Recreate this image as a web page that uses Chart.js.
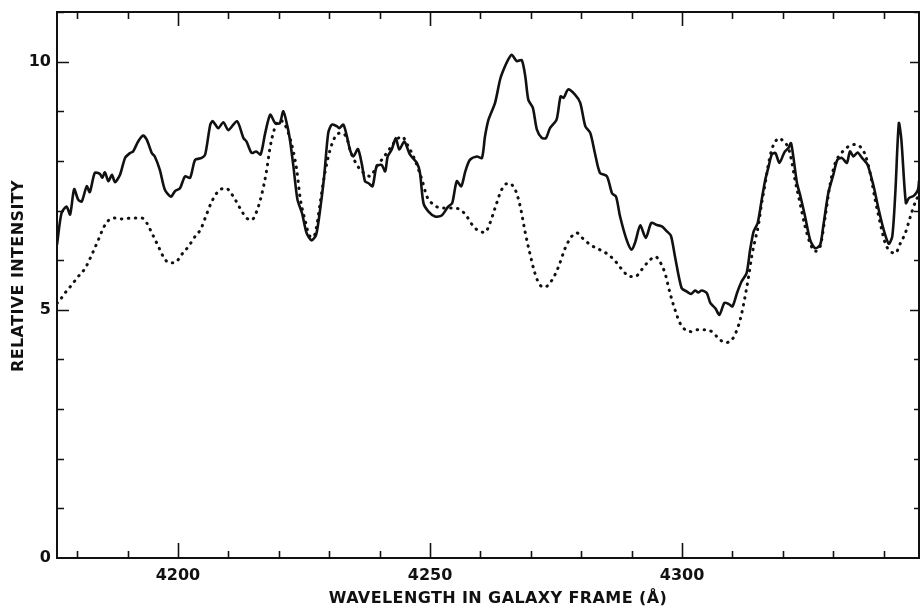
<!DOCTYPE html>
<html>
<head>
<meta charset="utf-8">
<script src="https://cdn.jsdelivr.net/npm/chart.js@4.4.1/dist/chart.umd.min.js"></script>
<style>
  html, body { margin: 0; padding: 0; background: #ffffff; }
  #wrap { width: 920px; height: 610px; position: relative; }
</style>
</head>
<body>
<div id="wrap"><canvas id="c" width="920" height="610"></canvas></div>
<script>
// ---- data ----
const galaxyWavelength = [
  4176.0,4176.9,4177.9,4178.6,4179.4,4180.2,4180.9,4181.9,4182.5,4183.5,4184.5,4185.0,4185.5,4186.2,4186.9,4187.5,
  4188.5,4189.5,4190.5,4191.1,4192.1,4193.1,4193.8,4194.8,4195.4,4196.4,4197.4,4198.6,4199.4,4200.4,4201.4,4202.4,
  4203.4,4204.7,4205.4,4206.4,4206.9,4208.0,4209.0,4210.0,4211.7,4213.0,4213.6,4214.6,4215.5,4216.4,4217.3,4218.3,
  4219.3,4220.2,4220.9,4221.7,4222.2,4222.9,4223.7,4224.6,4225.5,4226.5,4227.4,4228.2,4229.0,4229.8,4230.5,4231.5,
  4232.0,4232.8,4233.5,4234.1,4234.8,4235.7,4236.5,4237.1,4237.8,4238.6,4239.4,4240.4,4241.1,4241.6,4242.4,4243.2,
  4243.9,4244.9,4246.0,4247.4,4248.0,4248.7,4249.7,4251.0,4252.3,4253.6,4254.4,4255.3,4256.2,4257.0,4257.9,4259.3,
  4260.3,4260.9,4261.6,4262.9,4263.9,4264.6,4265.5,4266.2,4267.2,4268.2,4268.9,4269.5,4270.4,4271.2,4272.2,4273.0,
  4273.8,4275.1,4275.9,4276.5,4277.4,4278.8,4279.8,4280.8,4281.8,4282.7,4283.7,4285.1,4286.1,4286.9,4287.7,4289.0,
  4290.0,4290.7,4291.7,4292.8,4293.9,4295.0,4296.0,4297.0,4297.8,4298.6,4299.9,4300.9,4301.8,4302.6,4303.2,4303.9,
  4304.9,4305.6,4306.6,4307.4,4308.4,4309.2,4310.0,4310.9,4311.8,4312.8,4313.5,4314.2,4315.0,4315.8,4316.5,4317.1,
  4317.8,4318.5,4319.3,4320.1,4320.4,4321.1,4321.6,4322.1,4322.8,4323.4,4324.4,4325.4,4326.4,4327.4,4328.0,4329.0,
  4330.0,4330.8,4331.7,4332.7,4333.3,4334.0,4334.8,4335.7,4336.8,4338.0,4339.0,4340.0,4341.0,4341.7,4342.3,4343.0,
  4343.5,4344.4,4345.0,4346.0,4346.8,4347.0
];
const galaxyIntensity = [
  6.31,6.95,7.08,6.92,7.43,7.22,7.18,7.49,7.37,7.76,7.74,7.66,7.77,7.59,7.72,7.57,
  7.72,8.06,8.16,8.19,8.39,8.51,8.43,8.16,8.09,7.82,7.42,7.28,7.39,7.45,7.69,7.66,
  8.02,8.06,8.13,8.73,8.80,8.66,8.78,8.62,8.80,8.46,8.39,8.16,8.19,8.13,8.56,8.93,
  8.76,8.76,9.00,8.70,8.43,7.89,7.22,6.95,6.55,6.40,6.51,7.02,7.69,8.56,8.73,8.70,
  8.66,8.73,8.50,8.23,8.09,8.24,7.92,7.59,7.55,7.49,7.89,7.92,7.79,8.09,8.23,8.46,
  8.23,8.39,8.13,7.96,7.76,7.15,6.98,6.88,6.90,7.08,7.15,7.59,7.49,7.79,8.02,8.09,
  8.06,8.49,8.83,9.17,9.64,9.84,10.04,10.14,10.01,10.03,9.70,9.23,9.07,8.63,8.46,8.46,
  8.66,8.83,9.30,9.27,9.44,9.33,9.17,8.70,8.56,8.16,7.76,7.69,7.35,7.28,6.88,6.41,
  6.21,6.36,6.70,6.45,6.75,6.71,6.68,6.58,6.49,6.07,5.44,5.37,5.32,5.39,5.35,5.39,
  5.34,5.14,5.03,4.90,5.14,5.12,5.07,5.34,5.57,5.74,6.21,6.58,6.75,7.22,7.62,7.86,
  8.13,8.16,7.96,8.13,8.19,8.26,8.36,8.06,7.55,7.32,6.88,6.41,6.24,6.31,6.68,7.35,
  7.72,8.02,8.06,7.96,8.19,8.09,8.17,8.06,7.92,7.49,7.02,6.61,6.33,6.48,7.35,8.76,
  8.43,7.15,7.25,7.30,7.42,7.60
];
const starWavelength = [
  4176.0,4176.6,4177.6,4178.9,4180.2,4181.6,4182.9,4184.2,4185.2,4186.2,4187.2,4188.8,4191.1,4192.8,4193.8,4194.8,
  4196.1,4197.1,4198.2,4199.4,4200.7,4202.1,4203.4,4204.5,4205.4,4206.7,4208.0,4209.5,4211.0,4212.3,4213.6,4214.6,
  4215.6,4216.6,4217.5,4218.3,4219.1,4220.2,4221.2,4221.9,4222.8,4223.6,4224.2,4225.2,4226.2,4226.9,4227.5,4228.3,
  4229.2,4230.2,4231.2,4232.2,4233.5,4234.1,4235.5,4236.8,4238.1,4239.4,4240.7,4242.1,4243.4,4244.4,4245.7,4247.0,
  4248.4,4249.4,4250.7,4252.3,4254.3,4256.0,4257.3,4258.6,4259.9,4260.9,4261.9,4262.9,4264.2,4265.5,4266.9,4267.9,
  4268.9,4269.8,4270.8,4271.8,4272.8,4274.2,4275.5,4276.8,4278.1,4279.1,4280.4,4281.8,4283.7,4285.4,4287.1,4288.4,
  4289.7,4290.7,4292.0,4293.3,4294.7,4295.6,4296.6,4297.6,4298.6,4299.6,4300.6,4301.9,4303.2,4304.6,4305.9,4307.2,
  4308.5,4309.9,4310.9,4311.7,4312.5,4313.2,4313.8,4314.5,4315.1,4315.8,4316.5,4317.1,4317.8,4318.5,4319.3,4320.1,
  4321.1,4321.8,4322.4,4323.4,4324.4,4325.4,4326.4,4327.4,4328.4,4329.4,4330.4,4331.7,4333.0,4334.3,4335.3,4336.3,
  4337.3,4338.3,4339.3,4340.3,4341.3,4342.3,4343.3,4344.3,4345.3,4346.3,4347.0
];
const starIntensity = [
  5.13,5.20,5.34,5.50,5.67,5.84,6.11,6.41,6.65,6.80,6.85,6.83,6.85,6.85,6.75,6.55,
  6.28,6.07,5.95,5.95,6.11,6.28,6.48,6.62,6.85,7.18,7.39,7.45,7.28,7.05,6.85,6.81,
  6.98,7.32,7.76,8.29,8.63,8.82,8.73,8.56,8.23,7.79,7.28,6.81,6.48,6.47,6.68,7.22,
  7.79,8.23,8.49,8.56,8.46,8.23,7.92,7.76,7.69,7.89,8.06,8.26,8.43,8.49,8.29,8.02,
  7.62,7.28,7.12,7.05,7.05,7.02,6.88,6.68,6.58,6.56,6.75,7.05,7.42,7.55,7.42,7.08,
  6.55,6.14,5.74,5.50,5.46,5.60,5.87,6.24,6.48,6.55,6.43,6.31,6.21,6.11,5.94,5.77,
  5.67,5.67,5.81,5.97,6.07,5.97,5.74,5.34,5.00,4.73,4.60,4.56,4.60,4.60,4.56,4.43,
  4.34,4.40,4.60,4.87,5.27,5.67,6.07,6.41,6.68,7.15,7.55,7.92,8.23,8.39,8.46,8.39,
  8.26,7.96,7.62,7.15,6.68,6.34,6.18,6.28,6.88,7.55,7.96,8.17,8.29,8.33,8.29,8.13,
  7.76,7.22,6.75,6.34,6.18,6.14,6.34,6.55,6.88,7.18,7.32
];
const xTickLabels = [4200, 4250, 4300];
const xMinorTicks = [4180,4190,4200,4210,4220,4230,4240,4250,4260,4270,4280,4290,4300,4310,4320,4330,4340];
const yTickLabels = [0, 5, 10];
const yMinorTicks = [1,2,3,4,5,6,7,8,9,10,11];
const xTitle = 'WAVELENGTH IN GALAXY FRAME (Å)';
const yTitle = 'RELATIVE INTENSITY';

const INK = '#111111';
const FONT = '"DejaVu Sans", sans-serif';

const framePlugin = {
  id: 'frame',
  afterDatasetsDraw(chart) {
    const { ctx, chartArea: a, scales } = chart;
    const xs = scales.x, ys = scales.y;
    ctx.save();
    ctx.strokeStyle = INK;
    ctx.lineWidth = 2;
    ctx.strokeRect(a.left, a.top, a.right - a.left, a.bottom - a.top);
    ctx.lineWidth = 1.6;
    ctx.beginPath();
    xMinorTicks.forEach(v => {
      const px = Math.round(xs.getPixelForValue(v)) + 0.5;
      const major = xTickLabels.includes(v);
      ctx.moveTo(px, a.bottom); ctx.lineTo(px, a.bottom - (major ? 15 : 7));
      ctx.moveTo(px, a.top); ctx.lineTo(px, a.top + (major ? 14 : 7));
    });
    yMinorTicks.forEach(v => {
      const py = Math.round(ys.getPixelForValue(v)) + 0.5;
      const major = yTickLabels.includes(v);
      ctx.moveTo(a.left, py); ctx.lineTo(a.left + (major ? 12 : 7), py);
      ctx.moveTo(a.right, py); ctx.lineTo(a.right - (major ? 9 : 5), py);
    });
    ctx.stroke();
    // axis titles
    ctx.fillStyle = INK;
    ctx.font = 'bold 16px ' + FONT;
    if ('letterSpacing' in ctx) ctx.letterSpacing = '0.4px';
    ctx.textAlign = 'center';
    ctx.textBaseline = 'middle';
    ctx.fillText(xTitle, (a.left + a.right) / 2 + 10, 599);
    ctx.translate(19, (a.top + a.bottom) / 2 - 9);
    ctx.rotate(-Math.PI / 2);
    ctx.fillText(yTitle, 0, 0);
    ctx.restore();
  }
};

new Chart(document.getElementById('c'), {
  type: 'line',
  data: {
    datasets: [
      {
        label: 'Galaxy',
        data: galaxyWavelength.map((x, i) => ({ x, y: galaxyIntensity[i] })),
        borderColor: INK,
        borderWidth: 2.6,
        pointRadius: 0,
        tension: 0.25,
        borderJoinStyle: 'round',
        fill: false
      },
      {
        label: 'Star',
        data: starWavelength.map((x, i) => ({ x, y: starIntensity[i] })),
        borderColor: INK,
        borderWidth: 3,
        borderDash: [0.5, 6.5],
        borderCapStyle: 'round',
        pointRadius: 0,
        cubicInterpolationMode: 'monotone',
        fill: false
      }
    ]
  },
  options: {
    responsive: false,
    animation: false,
    devicePixelRatio: 1,
    layout: { padding: { top: 12, right: 1, left: 0, bottom: 0 } },
    plugins: { legend: { display: false }, tooltip: { enabled: false } },
    scales: {
      x: {
        type: 'linear',
        min: 4176,
        max: 4347,
        afterBuildTicks: s => { s.ticks = xTickLabels.map(v => ({ value: v })); },
        afterFit: s => { s.height = 52; s.paddingLeft = 0; s.paddingRight = 0; },
        grid: { display: false, drawTicks: false },
        border: { display: false },
        ticks: {
          color: INK,
          padding: 8,
          maxRotation: 0,
          autoSkip: false,
          font: { family: FONT, size: 16, weight: 'bold' },
          callback: v => String(v)
        }
      },
      y: {
        type: 'linear',
        min: 0,
        max: 11,
        afterBuildTicks: s => { s.ticks = yTickLabels.map(v => ({ value: v })); },
        afterFit: s => { s.width = 57; s.paddingTop = 0; s.paddingBottom = 0; },
        grid: { display: false, drawTicks: false },
        border: { display: false },
        ticks: {
          color: INK,
          padding: 6,
          autoSkip: false,
          font: { family: FONT, size: 16, weight: 'bold' },
          callback: v => String(v)
        }
      }
    }
  },
  plugins: [framePlugin]
});
</script>
</body>
</html>
